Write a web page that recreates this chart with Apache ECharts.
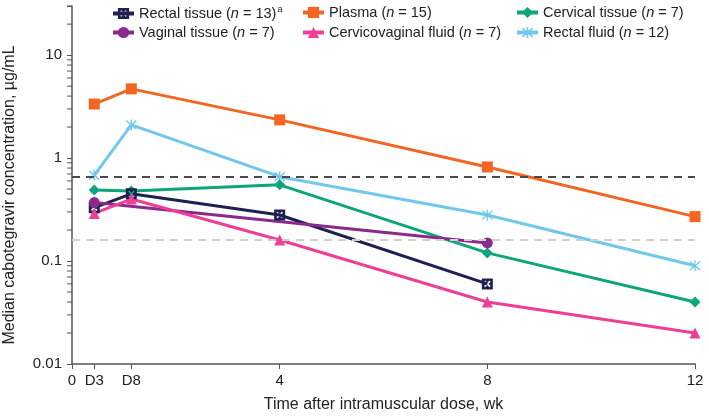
<!DOCTYPE html>
<html>
<head>
<meta charset="utf-8">
<script src="https://cdn.jsdelivr.net/npm/echarts@6/dist/echarts.min.js"></script>
<style>html,body{margin:0;padding:0;background:#fff}#c{width:709px;height:416px}</style>
</head>
<body>
<div id="c"></div>
<script>
// Time points in weeks (D3 = day 3, D8 = day 8)
const timePoints = [3/7, 8/7, 4, 8, 12];
const xTickValues = [0, 3/7, 8/7, 4, 8, 12];
const xTickLabels = ['0', 'D3', 'D8', '4', '8', '12'];
const yLabelValues = [0.01, 0.1, 1, 10];
const yMinorTicks = [0.02,0.03,0.04,0.05,0.06,0.07,0.08,0.09,0.2,0.3,0.4,0.5,0.6,0.7,0.8,0.9,2,3,4,5,6,7,8,9,20,30];

const seriesNames = ['Rectal tissue', 'Plasma', 'Cervical tissue', 'Vaginal tissue', 'Cervicovaginal fluid', 'Rectal fluid'];
const legendLabels = ['Rectal tissue ({i|n} = 13){sup|a}', 'Plasma ({i|n} = 15)', 'Cervical tissue ({i|n} = 7)', 'Vaginal tissue ({i|n} = 7)', 'Cervicovaginal fluid ({i|n} = 7)', 'Rectal fluid ({i|n} = 12)'];

const rectalTissue = [0.33, 0.45, 0.28, 0.06, null];
const plasma = [3.35, 4.7, 2.35, 0.82, 0.27];
const cervicalTissue = [0.49, 0.48, 0.55, 0.12, 0.04];
const vaginalTissue = [0.37, null, null, 0.15, null];
const cvFluid = [0.29, 0.40, 0.16, 0.04, 0.02];
const rectalFluid = [0.68, 2.1, 0.66, 0.28, 0.09];

const thresholds = [0.664, 0.162];

const FONT = 'Liberation Sans, Arial, sans-serif';
const colors = {
  'Rectal tissue': '#1d2050',
  'Plasma': '#f26522',
  'Cervical tissue': '#0ea57b',
  'Vaginal tissue': '#8a2a8c',
  'Cervicovaginal fluid': '#ec3f95',
  'Rectal fluid': '#72c7ec'
};
const symXSquare = 'path://M0,0L10,0L10,10L0,10ZM2,3L4,5L2,7L3,8L5,6L7,8L8,7L6,5L8,3L7,2L5,4L3,2Z';
const symAsterisk = 'path://M0,1.6L0.8,0.6L10,8.4L9.2,9.4ZM10,1.6L0.8,9.4L0,8.4L9.2,0.6ZM4.4,0L5.6,0L5.6,10L4.4,10Z';

function pts(arr) { return timePoints.map((t, i) => [t, arr[i]]).filter(p => p[1] !== null); }

function mkSeries(name, arr, symbol, size, extra) {
  return Object.assign({
    name: name, type: 'line', data: pts(arr), symbol: symbol, symbolSize: size,
    connectNulls: true,
    lineStyle: { width: 3, color: colors[name] },
    itemStyle: { color: colors[name] },
    emphasis: { disabled: true }, animation: false
  }, extra || {});
}

const legendPos = [[106, 0], [296, 0], [510, 0], [106, 20], [296, 20], [510, 20]];
const legends = seriesNames.map((n, i) => ({
  data: [n], left: legendPos[i][0], top: legendPos[i][1],
  itemWidth: 21, itemHeight: 14, selectedMode: false,
  lineStyle: { width: 4 },
  formatter: () => legendLabels[i],
  textStyle: {
    fontFamily: FONT, fontSize: 14.5, color: '#222',
    rich: {
      i: { fontFamily: FONT, fontSize: 14.5, fontStyle: 'italic', color: '#222' },
      sup: { fontFamily: FONT, fontSize: 9, color: '#222', padding: [0, 0, 8, 1] }
    }
  }
}));

const option = {
  animation: false,
  legend: legends,
  grid: { left: 72, right: 14, top: 6, bottom: 52, containLabel: false, outerBoundsMode: 'none' },
  xAxis: {
    type: 'value', min: 0, max: 12,
    name: 'Time after intramuscular dose, wk', nameLocation: 'middle', nameGap: 33,
    nameTextStyle: { fontFamily: FONT, fontSize: 16, color: '#222' },
    axisLine: { lineStyle: { color: '#555', width: 1.5 } },
    axisTick: { show: true, length: 5, customValues: xTickValues, lineStyle: { color: '#555' } },
    axisLabel: {
      customValues: xTickValues, fontFamily: FONT, fontSize: 15, color: '#222', margin: 9,
      formatter: v => { const i = xTickValues.findIndex(t => Math.abs(t - v) < 1e-6); return i >= 0 ? xTickLabels[i] : ''; }
    },
    splitLine: { show: false }
  },
  yAxis: {
    type: 'log', logBase: 10, min: 0.01, max: 30,
    name: 'Median cabotegravir concentration, \u00b5g/mL', nameLocation: 'middle', nameGap: 54,
    nameTextStyle: { fontFamily: FONT, fontSize: 16, color: '#222', padding: [0, 20, 0, 0] },
    axisLine: { show: true, lineStyle: { color: '#555', width: 1.5 } },
    axisTick: { show: true, length: 5, lineStyle: { color: '#555' } },
    axisLabel: {
      fontFamily: FONT, fontSize: 15, color: '#222', margin: 10,
      formatter: v => { const i = yLabelValues.findIndex(t => Math.abs(t - v) / t < 1e-6); return i >= 0 ? String(yLabelValues[i]) : ''; }
    },
    splitLine: { show: false }
  },
  series: [
    {
      type: 'custom', silent: true, clip: false, z: 1,
      data: yMinorTicks.map(v => [0, v]),
      renderItem: (params, api) => {
        const p = api.coord([0, api.value(1)]);
        return { type: 'line', shape: { x1: p[0] - 5, y1: p[1], x2: p[0], y2: p[1] }, style: { stroke: '#555', lineWidth: 1 } };
      }
    },
    mkSeries('Plasma', plasma, 'rect', 11, {
      markLine: {
        silent: true, symbol: 'none', label: { show: false }, animation: false,
        data: [
          { yAxis: thresholds[0], lineStyle: { color: '#4a4a4a', width: 2, type: [8, 6] } },
          { yAxis: thresholds[1], lineStyle: { color: '#d0d0d0', width: 2, type: [8, 6] } }
        ]
      }
    }),
    mkSeries('Rectal fluid', rectalFluid, symAsterisk, 11),
    mkSeries('Cervical tissue', cervicalTissue, 'diamond', 11),
    mkSeries('Rectal tissue', rectalTissue, symXSquare, 11),
    mkSeries('Vaginal tissue', vaginalTissue, 'circle', 11),
    mkSeries('Cervicovaginal fluid', cvFluid, 'triangle', 11)
  ]
};
const chart = echarts.init(document.getElementById('c'), null, { renderer: 'canvas' });
chart.setOption(option);
</script>
</body>
</html>
